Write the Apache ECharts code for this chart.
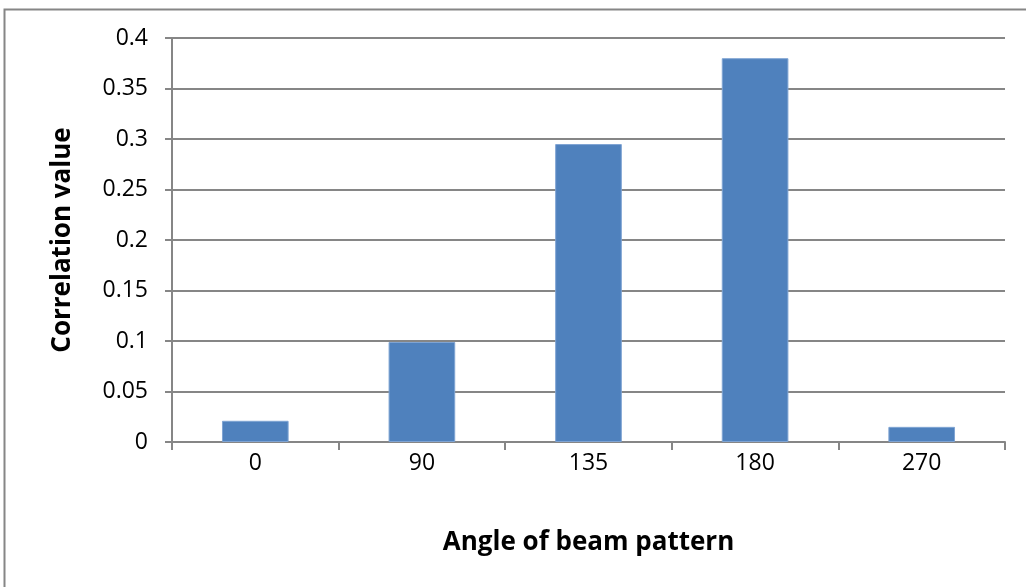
<!DOCTYPE html>
<html>
<head>
<meta charset="utf-8">
<script src="https://cdn.jsdelivr.net/npm/echarts@6/dist/echarts.min.js"></script>
<style>
  html, body { margin: 0; padding: 0; background: #ffffff; }
  #chart { width: 1026px; height: 587px; }
</style>
</head>
<body>
<div id="chart"></div>
<script>
// Beam pattern angles and their correlation values
const angles = ['0', '90', '135', '180', '270'];
const correlation = [0.021, 0.099, 0.295, 0.380, 0.015];

const axisGray = '#868686';
const barBlue = '#4F81BD';
const font = "'Open Sans', 'Liberation Sans', sans-serif";

const chart = echarts.init(document.getElementById('chart'));
chart.setOption({
  backgroundColor: '#ffffff',
  animation: false,
  graphic: [{
    type: 'rect',
    shape: { x: 4.5, y: 9.5, width: 1040, height: 600 },
    style: { fill: 'none', stroke: axisGray, lineWidth: 2 },
    silent: true
  }],
  grid: { left: 172, right: 21, top: 38, bottom: 145 },
  xAxis: {
    type: 'category',
    data: angles,
    name: 'Angle of beam pattern',
    nameLocation: 'middle',
    nameGap: 88,
    nameTextStyle: { fontFamily: font, fontSize: 26, fontWeight: 'bold', color: '#000' },
    axisLine: { lineStyle: { color: axisGray, width: 2 } },
    axisTick: { show: true, length: 8, alignWithLabel: false, lineStyle: { color: axisGray, width: 2 } },
    axisLabel: { fontFamily: font, fontSize: 23, color: '#000', margin: 10 }
  },
  yAxis: {
    type: 'value',
    min: 0,
    max: 0.4,
    interval: 0.05,
    name: 'Correlation value',
    nameLocation: 'middle',
    nameGap: 96,
    nameTextStyle: { fontFamily: font, fontSize: 26, fontWeight: 'bold', color: '#000' },
    axisLine: { show: true, lineStyle: { color: axisGray, width: 2 } },
    axisTick: { show: true, length: 7, lineStyle: { color: axisGray, width: 2 } },
    axisLabel: { fontFamily: font, fontSize: 23, color: '#000', margin: 24 },
    splitLine: { show: true, lineStyle: { color: axisGray, width: 2 } }
  },
  series: [{
    type: 'bar',
    data: correlation,
    barWidth: '40%',
    itemStyle: { color: barBlue, borderColor: '#7fa4d3', borderWidth: 1 }
  }]
});
</script>
</body>
</html>
